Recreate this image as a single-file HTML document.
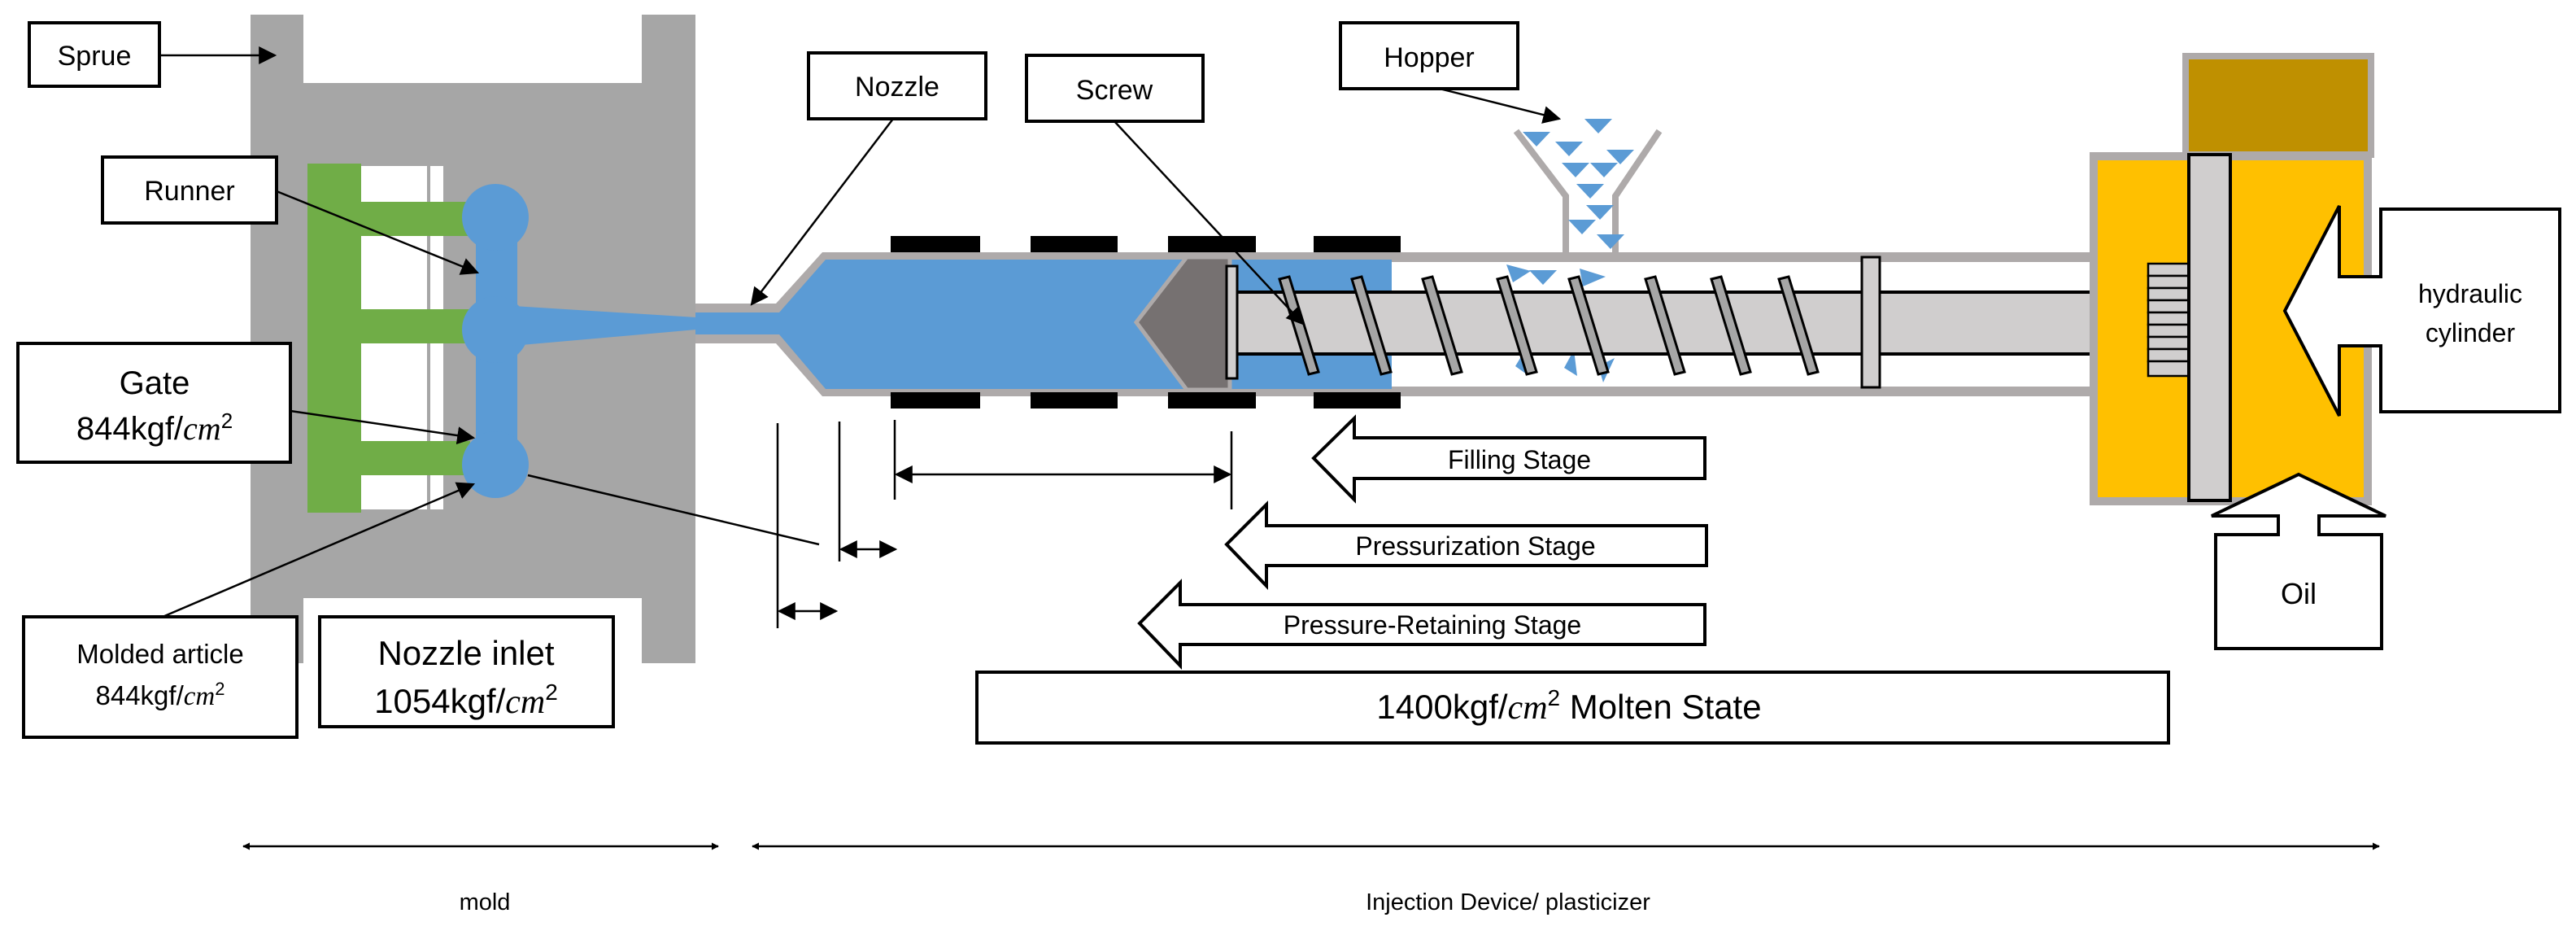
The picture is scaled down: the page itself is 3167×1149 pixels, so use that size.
<!DOCTYPE html>
<html><head><meta charset="utf-8"><style>
html,body{margin:0;padding:0;background:#fff;}
svg{display:block;}
text{font-family:"Liberation Sans","Noto Sans CJK KR",sans-serif;fill:#000;}
.m{font-family:"Liberation Serif",serif;font-style:italic;}
</style></head><body>
<svg width="3167" height="1149" viewBox="0 0 3167 1149" xmlns="http://www.w3.org/2000/svg">
<defs>
<marker id="ah" viewBox="0 0 10 10" refX="9" refY="5" markerWidth="9" markerHeight="9" markerUnits="userSpaceOnUse" orient="auto-start-reverse"><path d="M0,0 L10,5 L0,10z" fill="#000"/></marker>
<marker id="ab" viewBox="0 0 10 10" refX="9" refY="5" markerWidth="22" markerHeight="22" markerUnits="userSpaceOnUse" orient="auto-start-reverse"><path d="M0,0 L10,5 L0,10z" fill="#000"/></marker>
</defs>
<!-- mold -->
<path d="M308,18 H373 V102 H789 V18 H855 V815 H789 V735 H373 V815 H308Z" fill="#a6a6a6"/>
<rect x="444" y="204" width="101" height="422" fill="#fff"/>
<line x1="527" y1="204" x2="527" y2="626" stroke="#a6a6a6" stroke-width="4"/>
<rect x="378" y="201" width="66" height="429" fill="#70ad47"/>
<rect x="378" y="248" width="200" height="42" fill="#70ad47"/>
<rect x="378" y="380" width="200" height="42" fill="#70ad47"/>
<rect x="378" y="542" width="200" height="42" fill="#70ad47"/>
<rect x="585" y="267" width="51" height="304" fill="#5b9bd5"/>
<circle cx="609" cy="267" r="41" fill="#5b9bd5"/>
<circle cx="609" cy="405" r="41" fill="#5b9bd5"/>
<circle cx="609" cy="571" r="41" fill="#5b9bd5"/>
<path d="M630,376 L856,390 V405 L630,425Z" fill="#5b9bd5"/>
<!-- nozzle & barrel -->
<path d="M855,373 H954 L1011,310 H2575 V487 H1011 L954,422 H855Z" fill="#aeaaaa"/>
<path d="M855,384 H958 L1015,319 H1711 V478 H1015 L958,411 H855Z" fill="#5b9bd5"/>
<rect x="1711" y="322" width="864" height="153" fill="#fff"/>
<!-- heaters -->
<g fill="#000">
<rect x="1095" y="290" width="110" height="20"/><rect x="1267" y="290" width="107" height="20"/><rect x="1436" y="290" width="108" height="20"/><rect x="1615" y="290" width="107" height="20"/>
<rect x="1095" y="482" width="110" height="20"/><rect x="1267" y="482" width="107" height="20"/><rect x="1436" y="482" width="108" height="20"/><rect x="1615" y="482" width="107" height="20"/>
</g>
<!-- hopper -->
<polyline points="1864,161 1925,241 1925,312" fill="none" stroke="#aeaaaa" stroke-width="8"/>
<polyline points="2040,161 1986,241 1986,312" fill="none" stroke="#aeaaaa" stroke-width="8"/>
<g fill="#5b9bd5">
<path d="M1872,162 h34 l-17,18z"/><path d="M1948,146 h34 l-17,18z"/><path d="M1912,174 h34 l-17,18z"/><path d="M1975,184 h34 l-17,18z"/>
<path d="M1920,200 h34 l-17,18z"/><path d="M1955,200 h34 l-17,18z"/><path d="M1938,226 h34 l-17,18z"/><path d="M1950,252 h34 l-17,18z"/>
<path d="M1928,270 h34 l-17,18z"/><path d="M1963,288 h34 l-17,18z"/>
<path d="M1852,325 l30,8 l-22,14z"/><path d="M1880,332 h34 l-17,18z"/><path d="M1942,330 l32,10 l-28,12z"/>
<path d="M1875,430 l-12,20 l14,10z"/><path d="M1935,430 l-12,22 l16,10z"/><path d="M1985,440 l-14,30 l-6,-20z"/>
</g>
<!-- shaft -->
<rect x="1462" y="359" width="1180" height="76" fill="#d0cece" stroke="#000" stroke-width="4"/>
<path d="M1397,396 L1459,316 H1512 V479 H1459Z" fill="#767171" stroke="#aeaaaa" stroke-width="5"/>
<rect x="1508" y="327" width="13" height="138" fill="#d0cece" stroke="#000" stroke-width="3"/>
<g fill="#a6a6a6" stroke="#000" stroke-width="3">
<path d="M1573,343 l12,-3 l36,117 l-12,3z"/><path d="M1662,343 l12,-3 l36,117 l-12,3z"/><path d="M1749,343 l12,-3 l36,117 l-12,3z"/>
<path d="M1841,343 l12,-3 l36,117 l-12,3z"/><path d="M1929,343 l12,-3 l36,117 l-12,3z"/><path d="M2023,343 l12,-3 l36,117 l-12,3z"/>
<path d="M2104,343 l12,-3 l36,117 l-12,3z"/><path d="M2187,343 l12,-3 l36,117 l-12,3z"/>
</g>
<rect x="2289" y="316" width="22" height="160" fill="#d0cece" stroke="#000" stroke-width="3"/>
<!-- cylinder -->
<path d="M2687,69 L2700,69 H2915 V190 H2687 V82Z" fill="#bf9000" stroke="#aeaaaa" stroke-width="8"/>
<rect x="2574" y="192" width="337" height="424" fill="#ffc000" stroke="#aeaaaa" stroke-width="10"/>
<g fill="#d0cece" stroke="#000" stroke-width="2.5">
<rect x="2641" y="324" width="50" height="15"/><rect x="2641" y="339" width="50" height="15"/><rect x="2641" y="354" width="50" height="15"/><rect x="2641" y="369" width="50" height="15"/><rect x="2641" y="384" width="50" height="15"/><rect x="2641" y="399" width="50" height="15"/><rect x="2641" y="414" width="50" height="15"/><rect x="2641" y="429" width="50" height="15"/><rect x="2641" y="444" width="50" height="18"/>
</g>
<rect x="2691" y="190" width="51" height="425" fill="#d0cece" stroke="#000" stroke-width="4"/>
<path d="M2809,382 L2876,253 V340 H2927 V257 H3147 V506 H2927 V425 H2876 V511Z" fill="#fff" stroke="#000" stroke-width="4"/>
<text x="3037" y="372" font-size="32" text-anchor="middle">hydraulic</text>
<text x="3037" y="420" font-size="32" text-anchor="middle">cylinder</text>
<path d="M2826,583 L2933,634 H2851 V657 H2928 V797 H2724 V657 H2801 V634 H2719Z" fill="#fff" stroke="#000" stroke-width="4"/>
<text x="2826" y="742" font-size="36" text-anchor="middle">Oil</text>
<!-- labels -->
<g fill="#fff" stroke="#000" stroke-width="4">
<rect x="36" y="28" width="160" height="78"/>
<rect x="126" y="193" width="214" height="81"/>
<rect x="22" y="422" width="335" height="146"/>
<rect x="29" y="758" width="336" height="148"/>
<rect x="393" y="758" width="361" height="135"/>
<rect x="994" y="65" width="218" height="81"/>
<rect x="1262" y="68" width="217" height="81"/>
<rect x="1648" y="28" width="218" height="81"/>
<rect x="1201" y="826" width="1465" height="87"/>
</g>
<text x="116" y="80" font-size="34" text-anchor="middle">Sprue</text>
<text x="233" y="246" font-size="34" text-anchor="middle">Runner</text>
<text x="190" y="484" font-size="40" text-anchor="middle">Gate</text>
<text x="190" y="540" font-size="40" text-anchor="middle">844kgf/<tspan class="m">cm</tspan><tspan font-size="26" dy="-14">2</tspan></text>
<text x="197" y="815" font-size="33" text-anchor="middle">Molded article</text>
<text x="197" y="866" font-size="33" text-anchor="middle">844kgf/<tspan class="m">cm</tspan><tspan font-size="22" dy="-12">2</tspan></text>
<text x="573" y="817" font-size="42" text-anchor="middle">Nozzle inlet</text>
<text x="573" y="876" font-size="42" text-anchor="middle">1054kgf/<tspan class="m">cm</tspan><tspan font-size="28" dy="-16">2</tspan></text>
<text x="1103" y="118" font-size="34" text-anchor="middle">Nozzle</text>
<text x="1370" y="122" font-size="34" text-anchor="middle">Screw</text>
<text x="1757" y="82" font-size="34" text-anchor="middle">Hopper</text>
<text x="1929" y="883" font-size="42" text-anchor="middle">1400kgf/<tspan class="m">cm</tspan><tspan font-size="28" dy="-16">2</tspan><tspan dy="16"> Molten State</tspan></text>
<!-- leaders -->
<g stroke="#000" stroke-width="2.5" fill="none">
<line x1="196" y1="68" x2="338" y2="68" marker-end="url(#ab)"/>
<line x1="340" y1="235" x2="587" y2="335" marker-end="url(#ab)"/>
<line x1="357" y1="505" x2="582" y2="538" marker-end="url(#ab)"/>
<line x1="200" y1="758" x2="582" y2="595" marker-end="url(#ab)"/>
<line x1="649" y1="584" x2="1007" y2="669"/>
<line x1="1098" y1="146" x2="924" y2="374" marker-end="url(#ab)"/>
<line x1="1370" y1="149" x2="1602" y2="398" marker-end="url(#ab)"/>
<line x1="1770" y1="109" x2="1917" y2="146" marker-end="url(#ab)"/>
<line x1="956" y1="520" x2="956" y2="772"/>
<line x1="1032" y1="518" x2="1032" y2="690"/>
<line x1="1100" y1="516" x2="1100" y2="614"/>
<line x1="1514" y1="530" x2="1514" y2="626"/>
<line x1="1102" y1="583" x2="1512" y2="583" marker-start="url(#ab)" marker-end="url(#ab)"/>
<line x1="1034" y1="675" x2="1101" y2="675" marker-start="url(#ab)" marker-end="url(#ab)"/>
<line x1="958" y1="751" x2="1028" y2="751" marker-start="url(#ab)" marker-end="url(#ab)"/>
<line x1="299" y1="1040" x2="883" y2="1040" marker-start="url(#ah)" marker-end="url(#ah)"/>
<line x1="925" y1="1040" x2="2925" y2="1040" marker-start="url(#ah)" marker-end="url(#ah)"/>
</g>
<!-- stage arrows -->
<g fill="#fff" stroke="#000" stroke-width="4">
<path d="M1615,563 L1665,514 V538 H2096 V588 H1665 V614Z"/>
<path d="M1508,669 L1557,620 V646 H2098 V695 H1557 V720Z"/>
<path d="M1401,766 L1451,716 V743 H2096 V792 H1451 V818Z"/>
</g>
<text x="1868" y="576" font-size="32" text-anchor="middle">Filling Stage</text>
<text x="1814" y="682" font-size="32" text-anchor="middle">Pressurization Stage</text>
<text x="1761" y="779" font-size="32" text-anchor="middle">Pressure-Retaining Stage</text>
<text x="596" y="1118" font-size="29" text-anchor="middle" fill="#333">mold</text>
<text x="1854" y="1118" font-size="29" text-anchor="middle" fill="#333">Injection Device/ plasticizer</text>
</svg>
</body></html>
